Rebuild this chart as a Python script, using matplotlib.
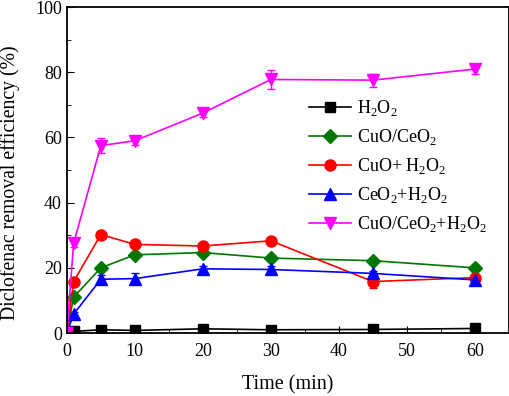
import numpy as np
import matplotlib.pyplot as plt
import matplotlib
from matplotlib.ticker import MultipleLocator

matplotlib.rcParams['font.family'] = ['Liberation Serif', 'DejaVu Serif']
matplotlib.rcParams['mathtext.fontset'] = 'custom'
matplotlib.rcParams['mathtext.rm'] = 'Liberation Serif'
matplotlib.rcParams['font.size'] = 12

time = [0, 1, 5, 10, 20, 30, 45, 60]

h2o2 = [0, 0.5, 1.0, 0.8, 1.3, 1.0, 1.1, 1.4]
h2o2_err = [0, 0.2, 0.3, 0.3, 0.3, 0.3, 0.3, 0.3]
cuo_ceo2 = [0, 11.0, 20.0, 24.0, 24.7, 23.0, 22.2, 20.0]
cuo_ceo2_err = [0, 0.8, 0.8, 0.8, 0.8, 0.8, 0.8, 0.8]
cuo_h2o2 = [0, 15.8, 30.2, 27.2, 26.7, 28.3, 15.8, 17.0]
cuo_h2o2_err = [0, 0.8, 0.8, 0.8, 0.8, 0.8, 2.0, 0.8]
ceo2_h2o2 = [0, 5.8, 16.5, 16.7, 19.7, 19.5, 18.3, 16.3]
ceo2_h2o2_err = [0, 0.8, 1.2, 1.8, 1.0, 1.2, 0.8, 1.0]
cuo_ceo2_h2o2 = [0, 27.5, 57.5, 59.0, 67.5, 77.8, 77.6, 81.0]
cuo_ceo2_h2o2_err = [0, 1.0, 2.2, 1.2, 1.2, 3.0, 2.0, 1.5]

labels = ['H$_2$O$_2$', 'CuO/CeO$_2$', 'CuO+ H$_2$O$_2$',
          'CeO$_2$+H$_2$O$_2$', 'CuO/CeO$_2$+H$_2$O$_2$']
series = [h2o2, cuo_ceo2, cuo_h2o2, ceo2_h2o2, cuo_ceo2_h2o2]
errors = [h2o2_err, cuo_ceo2_err, cuo_h2o2_err, ceo2_h2o2_err, cuo_ceo2_h2o2_err]
colors = ['black', '#007700', 'red', 'blue', 'magenta']
markers = ['s', 'D', 'o', '^', 'v']
msizes = [7, 7, 8, 8, 8]

fig = plt.figure(figsize=(5.1, 3.96), dpi=100)
ax = fig.add_axes([0.131, 0.159, 0.867, 0.823])

for y, e, c, m, ms, lab in zip(series, errors, colors, markers, msizes, labels):
    ax.errorbar(time, y, yerr=e, color=c, marker=m, ms=ms, lw=1.2,
                capsize=3, elinewidth=1, label=lab)

ax.set_xlim(0, 65)
ax.set_ylim(0, 100)
ax.xaxis.set_major_locator(MultipleLocator(10))
ax.xaxis.set_minor_locator(MultipleLocator(5))
ax.yaxis.set_major_locator(MultipleLocator(20))
ax.yaxis.set_minor_locator(MultipleLocator(10))
ax.tick_params(which='both', direction='in', top=False, right=False)
ax.tick_params(which='major', length=5, labelsize=13)
ax.tick_params(which='minor', length=3)
ax.tick_params(axis='x', which='major', pad=7)
for s in ax.spines.values():
    s.set_linewidth(1.3)

ax.set_xlabel('Time (min)', fontsize=14.5, labelpad=11)
ax.set_ylabel('Diclofenac removal efficiency (%)', fontsize=14.2)
ax.yaxis.set_label_coords(-0.105, 0.46)

handles, labs = ax.get_legend_handles_labels()
handles = [h[0] for h in handles]
ax.legend(handles, labs, loc='upper left', bbox_to_anchor=(0.511, 0.77),
          frameon=False, fontsize=13, handlelength=2.33, labelspacing=0.5,
          handletextpad=0.33)

plt.savefig('out.png', dpi=100)
